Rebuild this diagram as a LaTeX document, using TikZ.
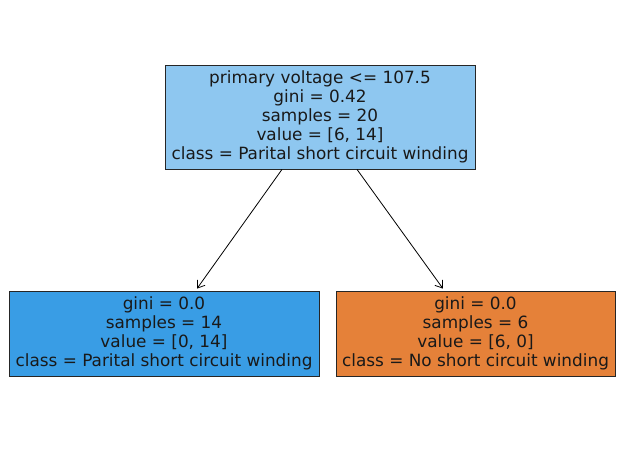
\documentclass[tikz,border=0pt]{standalone}
\usepackage{fontspec}
\setmainfont{DejaVu Sans}
\usetikzlibrary{arrows.meta}
\definecolor{rootc}{HTML}{8EC7F0}
\definecolor{bluec}{HTML}{399DE5}
\definecolor{orangec}{HTML}{E58139}
\begin{document}
\begin{tikzpicture}[x=0.75pt,y=-0.75pt,
  treenode/.style={draw=black!85, line width=0.6pt, align=center, inner sep=0pt,
    font=\fontsize{12.65pt}{14.2pt}\selectfont, text=black!90},
  edge/.style={line width=0.6pt, -{Straight Barb[length=5pt,width=7pt,line width=0.6pt]}}]
\useasboundingbox (0,0) rectangle (639,450);
\fill[white] (0,0) rectangle (639,450);
\node[treenode, fill=rootc, minimum width=232.5pt, minimum height=78pt] (root) at (320,117)
  {primary voltage <= 107.5\\gini = 0.42\\samples = 20\\value = [6, 14]\\class = Parital short circuit winding};
\node[treenode, fill=bluec, minimum width=232.5pt, minimum height=63.75pt] (left) at (164,333.5)
  {gini = 0.0\\samples = 14\\value = [0, 14]\\class = Parital short circuit winding};
\node[treenode, fill=orangec, minimum width=209.25pt, minimum height=63.75pt] (right) at (475.5,333.5)
  {gini = 0.0\\samples = 6\\value = [6, 0]\\class = No short circuit winding};
\draw[edge] ([xshift=-28.5pt]root.south) -- ([xshift=24.75pt,yshift=1.5pt]left.north);
\draw[edge] ([xshift=27.75pt]root.south) -- ([xshift=-24.4pt,yshift=1.5pt]right.north);
\end{tikzpicture}
\end{document}
